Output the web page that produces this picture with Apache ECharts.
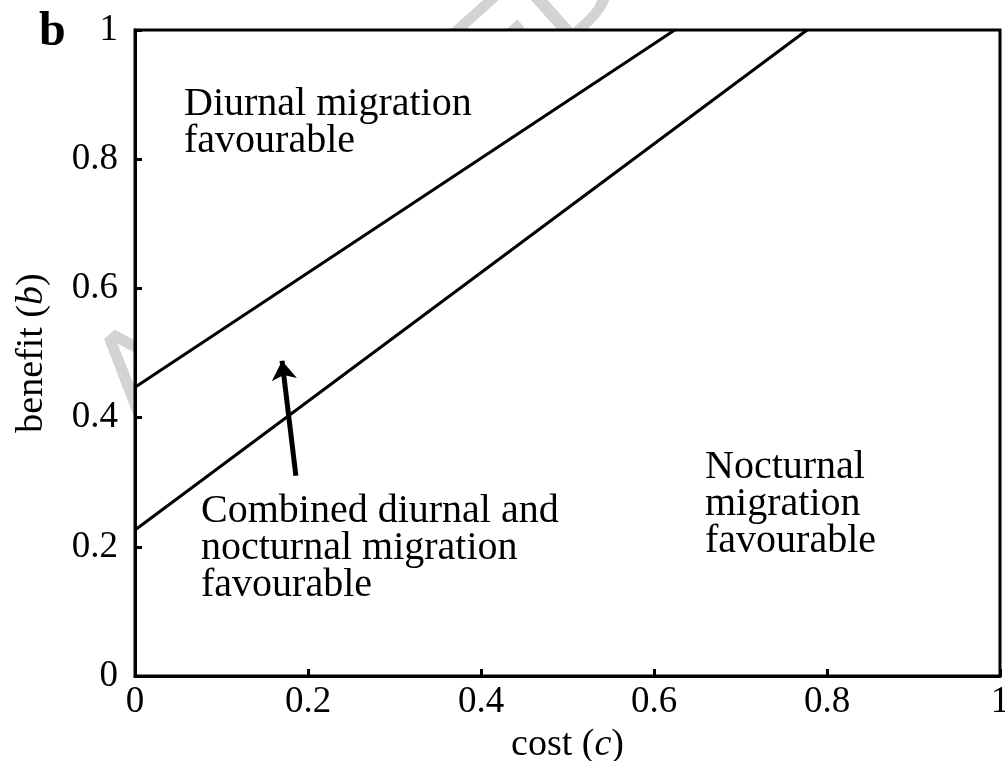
<!DOCTYPE html>
<html>
<head>
<meta charset="utf-8">
<script src="https://cdn.jsdelivr.net/npm/echarts@6/dist/echarts.min.js"></script>
<style>
  html, body { margin: 0; padding: 0; background: #fff; }
  #chart { width: 1005px; height: 761px; }
</style>
</head>
<body>
<div id="chart"></div>
<script>
// boundary lines (cost, benefit)
var upperLine = [[0, 0.447], [0.624, 1]];
var lowerLine = [[0, 0.226], [0.777, 1]];
// arrow pointing into the middle band
var arrowCoords = [[0.186, 0.31], [0.170, 0.488]];

var serif = '"Liberation Serif", "DejaVu Serif", serif';
var gridBox = { left: 135, right: 5, top: 30, bottom: 85 };

var el = document.getElementById('chart');
var chart = echarts.init(el);

// layers: 0 = watermark, 1 = white plot cover, 2 = the chart itself
function regionText(x, y, text) {
    return {
        type: 'text',
        left: x,
        top: y,
        zlevel: 2,
        z: 10,
        style: {
            text: text,
            font: '40px ' + serif,
            fill: '#000',
            lineHeight: 37
        }
    };
}

var nameRich = {
    i: { fontFamily: serif, fontSize: 38, fontStyle: 'italic', color: '#000' }
};

var option = {
    animation: false,
    backgroundColor: 'transparent',
    grid: {
        left: gridBox.left,
        right: gridBox.right,
        top: gridBox.top,
        bottom: gridBox.bottom,
        outerBoundsMode: 'none',
        containLabel: false,
        show: true,
        zlevel: 2,
        backgroundColor: 'transparent',
        borderColor: '#000',
        borderWidth: 3
    },
    xAxis: {
        type: 'value',
        min: 0,
        max: 1,
        interval: 0.2,
        name: 'cost ({i|c})',
        nameLocation: 'middle',
        nameGap: 28,
        nameTextStyle: { fontFamily: serif, fontSize: 38, color: '#000', rich: nameRich },
        axisLine: { show: true, lineStyle: { color: '#000', width: 3 } },
        axisTick: { show: true, inside: true, length: 7, lineStyle: { color: '#000', width: 3 } },
        axisLabel: { fontFamily: serif, fontSize: 37, color: '#000', margin: 8 },
        splitLine: { show: false },
        zlevel: 2,
        z: 5
    },
    yAxis: {
        type: 'value',
        min: 0,
        max: 1,
        interval: 0.2,
        name: 'benefit ({i|b})',
        nameLocation: 'middle',
        nameGap: 84,
        nameTextStyle: { fontFamily: serif, fontSize: 38, color: '#000', rich: nameRich },
        axisLine: { show: true, lineStyle: { color: '#000', width: 3 } },
        axisTick: { show: true, inside: true, length: 7, lineStyle: { color: '#000', width: 3 } },
        axisLabel: { fontFamily: serif, fontSize: 37, color: '#000', margin: 17 },
        splitLine: { show: false },
        zlevel: 2,
        z: 5
    },
    graphic: [
        {
            type: 'text',
            x: 75,
            y: 360,
            rotation: 0.73,
            zlevel: 0,
            style: {
                text: 'ACCEPTED MANUSCRIPT',
                font: '125px "DejaVu Sans", sans-serif',
                fill: '#d3d3d3'
            }
        },
        {
            type: 'rect',
            left: gridBox.left,
            top: gridBox.top,
            zlevel: 1,
            shape: {
                width: el.clientWidth - gridBox.left - gridBox.right,
                height: el.clientHeight - gridBox.top - gridBox.bottom
            },
            style: { fill: '#fff' }
        },
        {
            type: 'text',
            left: 39,
            top: 9,
            zlevel: 2,
            z: 10,
            style: { text: 'b', font: 'bold 48px ' + serif, fill: '#000' }
        },
        regionText(184, 84, 'Diurnal migration\nfavourable'),
        regionText(201, 491, 'Combined diurnal and\nnocturnal migration\nfavourable'),
        regionText(705, 447, 'Nocturnal\nmigration\nfavourable')
    ],
    series: [
        {
            type: 'line',
            data: upperLine,
            symbol: 'none',
            lineStyle: { color: '#000', width: 3 },
            zlevel: 2,
            z: 3
        },
        {
            type: 'line',
            data: lowerLine,
            symbol: 'none',
            lineStyle: { color: '#000', width: 3 },
            zlevel: 2,
            z: 3
        },
        {
            type: 'lines',
            coordinateSystem: 'cartesian2d',
            symbol: ['none', 'arrow'],
            symbolSize: 19,
            lineStyle: { color: '#000', width: 5, opacity: 1 },
            data: [{ coords: arrowCoords }],
            zlevel: 2,
            z: 4
        }
    ]
};

chart.setOption(option);
</script>
</body>
</html>
